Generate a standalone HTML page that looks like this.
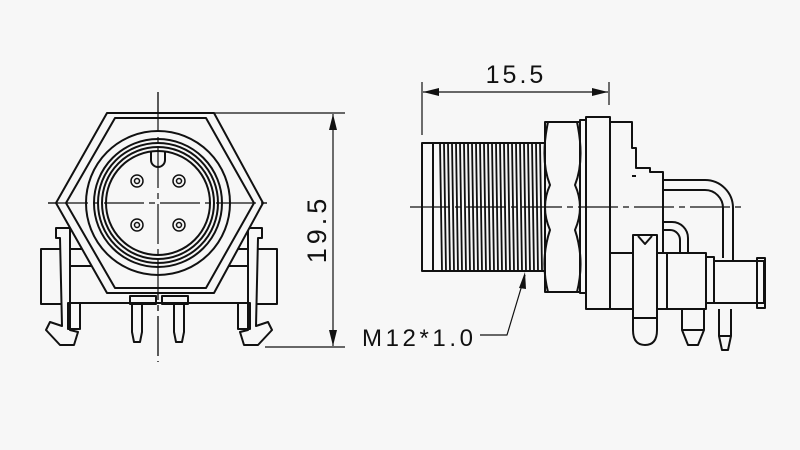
<!DOCTYPE html>
<html><head><meta charset="utf-8"><style>
html,body{margin:0;padding:0;background:#f7f7f7}
svg{display:block}
text{font-family:"Liberation Sans",sans-serif;fill:#111}
</style></head><body>
<svg width="800" height="450" viewBox="0 0 800 450" xmlns="http://www.w3.org/2000/svg">
<rect width="800" height="450" fill="#f7f7f7"/>
<g fill="none" stroke="#111" stroke-width="2" stroke-linejoin="round">
<!-- LEFT VIEW -->
<line x1="158" y1="92" x2="158" y2="362" stroke-width="1.2" stroke-dasharray="40 5 6 5"/>
<line x1="48" y1="203" x2="270" y2="203" stroke-width="1.2" stroke-dasharray="40 5 6 5"/>
<rect x="41" y="249" width="24" height="55"/>
<rect x="253" y="249" width="24" height="55"/>
<rect x="65" y="249" width="188" height="54"/>
<line x1="65" y1="266" x2="253" y2="266"/>
<path d="M56 238 L56 228 L70 228 L70 330 L78 332 L74 345 L60 345 L46 330 L50 322 L62 326 L60 238 Z" fill="#f7f7f7"/>
<path d="M262 238 L262 228 L248 228 L248 330 L240 332 L244 345 L258 345 L272 330 L268 322 L256 326 L258 238 Z" fill="#f7f7f7"/>
<rect x="68" y="303" width="12" height="26"/>
<rect x="238" y="303" width="12" height="26"/>
<path d="M107 113 L214 113 L263 203 L214 293 L107 293 L56 203 Z" fill="#f7f7f7"/>
<path d="M115 118 L206 118 L254 203 L206 288 L115 288 L66 203 Z"/>
<circle cx="158" cy="203" r="72"/>
<circle cx="158" cy="203" r="64"/>
<circle cx="158" cy="203" r="60"/>
<circle cx="158" cy="203" r="56"/>
<circle cx="158" cy="203" r="52"/>
<line x1="48" y1="203" x2="270" y2="203" stroke-width="1.2" stroke-dasharray="40 5 6 5"/>
<line x1="158" y1="92" x2="158" y2="362" stroke-width="1.2" stroke-dasharray="40 5 6 5"/>
<path d="M151 152 L151 160 A7 7 0 0 0 165 160 L165 152"/>
<g stroke-width="1.5">
<circle cx="137" cy="181" r="6"/><circle cx="137" cy="181" r="2.5"/>
<circle cx="179" cy="181" r="6"/><circle cx="179" cy="181" r="2.5"/>
<circle cx="137" cy="225" r="6"/><circle cx="137" cy="225" r="2.5"/>
<circle cx="179" cy="225" r="6"/><circle cx="179" cy="225" r="2.5"/>
</g>
<rect x="130" y="296" width="26" height="8"/>
<rect x="162" y="296" width="26" height="8"/>
<path d="M132 304 L132 332 L134 342 L140 342 L142 332 L142 304"/>
<path d="M174 304 L174 332 L176 342 L182 342 L184 332 L184 304"/>
<g stroke-width="1.2">
<line x1="214" y1="113" x2="345" y2="113"/>
<line x1="265" y1="347" x2="345" y2="347"/>
<line x1="333" y1="114" x2="333" y2="346"/>
</g>
<path d="M333 114 L329 130 L337 130 Z M333 346 L329 330 L337 330 Z" fill="#111" stroke="none"/>

<!-- RIGHT VIEW -->
<g stroke-width="1.2">
<line x1="422" y1="82" x2="422" y2="135"/>
<line x1="609" y1="82" x2="609" y2="105"/>
<line x1="423" y1="92" x2="608" y2="92"/>
</g>
<path d="M423 92 L439 88 L439 96 Z M608 92 L592 88 L592 96 Z" fill="#111" stroke="none"/>
<rect x="422" y="143" width="123" height="128"/>
<line x1="433" y1="143" x2="433" y2="271"/>
<g stroke-width="1.8">
<path d="M440 143 L442 271 M444 143 L446 271 M448 143 L450 271 M452 143 L454 271 M456 143 L458 271 M460 143 L462 271 M464 143 L466 271 M468 143 L470 271 M472 143 L474 271 M476 143 L478 271 M480 143 L482 271 M484 143 L486 271 M488 143 L490 271 M492 143 L494 271 M496 143 L498 271 M500 143 L502 271 M504 143 L506 271 M508 143 L510 271 M512 143 L514 271 M516 143 L518 271 M520 143 L522 271 M524 143 L526 271 M528 143 L530 271 M532 143 L534 271 M536 143 L538 271 M540 143 L542 271"/>
</g>
<rect x="545" y="122" width="35" height="170"/>
<path d="M548 122 Q540 160 550 185 Q540 207 550 230 Q540 260 548 292"/>
<path d="M577 122 Q585 160 575 185 Q585 207 575 230 Q585 260 577 292"/>
<rect x="580" y="120" width="6" height="173"/>
<rect x="586" y="117" width="24" height="192"/>
<path d="M610 122 L632 122 L632 148 L636 148 L636 168 L650 168 L650 172 L663 172 L663 253"/>
<path d="M632 176 L636 176"/>
<path d="M610 253 L706 253 L706 309 L610 309"/>
<line x1="667" y1="253" x2="667" y2="309"/>
<path d="M663 180 L705 180 A28 28 0 0 1 733 208 L733 260"/>
<path d="M663 190 L705 190 A18 18 0 0 1 723 208 L723 258"/>
<path d="M663 222 L672 222 A16 16 0 0 1 688 238 L688 253"/>
<path d="M663 230 L670 230 A10 10 0 0 1 680 240 L680 253"/>
<rect x="706" y="257" width="8" height="46"/>
<path d="M714 261 L764 261 L764 303 L714 303"/>
<rect x="757" y="258" width="8" height="50"/>
<path d="M633 235 L657 235 L657 330 Q657 345 645 345 Q633 345 633 330 Z" fill="#f7f7f7"/>
<path d="M638 236 L645 244 L652 236"/>
<line x1="633" y1="318" x2="657" y2="318"/>
<path d="M682 309 L682 330 L688 345 L698 345 L704 330 L704 309"/>
<line x1="682" y1="330" x2="704" y2="330"/>
<path d="M719 309 L719 336 L722 350 L728 350 L731 336 L731 309"/>
<line x1="719" y1="336" x2="731" y2="336"/>
<line x1="410" y1="207" x2="745" y2="207" stroke-width="1.2" stroke-dasharray="40 5 6 5"/>
<path d="M525 275 L507 335 L480 335" stroke-width="1.2"/>
</g>
<path d="M525 272 L519 288 L526 289 Z" fill="#111"/>
<text x="516" y="83" font-size="25" letter-spacing="3" text-anchor="middle">15.5</text>
<text x="362" y="346" font-size="24" letter-spacing="3.6">M12*1.0</text>
<text transform="translate(326,229) rotate(-90)" font-size="27" letter-spacing="4" text-anchor="middle">19.5</text>
</svg>
</body></html>
